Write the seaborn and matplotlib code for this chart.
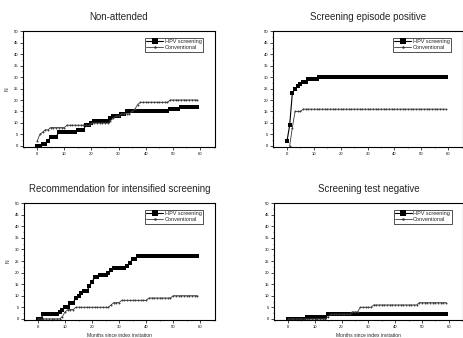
import numpy as np
import pandas as pd
import matplotlib
matplotlib.use("Agg")
import matplotlib.pyplot as plt
import seaborn as sns
from matplotlib.ticker import MultipleLocator

months = list(range(60))

titles = ["Non-attended", "Screening episode positive",
          "Recommendation for intensified screening", "Screening test negative"]
series_names = ["HPV screening", "Conventional"]
xlabel = "Months since index invitation"
ylabel = "N"

def runs(*pairs):
    out = []
    for val, n in pairs:
        out += [val] * n
    return out

# Non-attended
hpv_nonatt = runs((0, 2), (1, 2), (2, 1), (4, 3), (6, 7), (7, 3), (9, 2), (10, 1),
                  (11, 6), (12, 1), (13, 3), (14, 2), (15, 16), (16, 4), (17, 7))
conv_nonatt = runs((2, 1), (5, 1), (6, 1), (7, 2), (8, 6), (9, 9), (10, 7), (11, 1),
                   (12, 1), (13, 2), (14, 4), (15, 1), (16, 1), (18, 1), (19, 11), (20, 11))
# Screening episode positive
hpv_pos = runs((2, 1), (9, 1), (23, 1), (25, 1), (26, 1), (27, 1), (28, 2), (29, 4), (30, 48))
conv_pos = runs((np.nan, 1), (0, 1), (8, 1), (15, 3), (16, 54))
# Recommendation for intensified screening
hpv_rec = runs((0, 2), (2, 6), (3, 1), (4, 1), (5, 2), (7, 2), (9, 1), (10, 1), (11, 1),
               (12, 2), (14, 1), (16, 1), (18, 2), (19, 3), (20, 1), (21, 1), (22, 5),
               (23, 1), (24, 1), (26, 2), (27, 23))
conv_rec = runs((0, 9), (1, 1), (3, 1), (4, 3), (5, 13), (6, 1), (7, 3), (8, 10), (9, 9), (10, 10))
# Screening test negative
hpv_neg = runs((0, 7), (1, 8), (2, 45))
conv_neg = runs((0, 15), (1, 1), (2, 8), (3, 3), (5, 5), (6, 17), (7, 11))

panels = [(hpv_nonatt, conv_nonatt), (hpv_pos, conv_pos),
          (hpv_rec, conv_rec), (hpv_neg, conv_neg)]

sns.set_style("ticks")
plt.rcParams['font.family'] = ['Liberation Sans', 'DejaVu Sans']

fig = plt.figure(figsize=(4.64, 3.38), dpi=100)
W, H = 464, 338
boxes = [(23, 31, 215, 147), (273, 31, 463, 147),
         (24, 203, 215, 320), (274, 203, 463.5, 320)]

for i, ((hpv, conv), title, (l, t, r, b)) in enumerate(zip(panels, titles, boxes)):
    ax = fig.add_axes([l / W, (H - b) / H, (r - l) / W, (b - t) / H])
    df_h = pd.DataFrame({"month": months, "N": hpv})
    df_c = pd.DataFrame({"month": months, "N": conv})
    sns.lineplot(data=df_h, x="month", y="N", ax=ax, color="black", marker="s",
                 markersize=3.4, markeredgewidth=0, linewidth=0.8, estimator=None,
                 label=series_names[0])
    sns.lineplot(data=df_c, x="month", y="N", ax=ax, color="#3a3a3a", marker="o",
                 markersize=1.4, markeredgewidth=0, linewidth=0.6, estimator=None,
                 label=series_names[1])
    ax.set_xlim(-5.2, 65.5)
    ax.set_ylim(-0.5, 50.1)
    ax.xaxis.set_major_locator(MultipleLocator(10))
    ax.xaxis.set_minor_locator(MultipleLocator(5))
    ax.yaxis.set_major_locator(MultipleLocator(5))
    ax.yaxis.set_minor_locator(MultipleLocator(2.5))
    for s in ax.spines.values():
        s.set_visible(True)
        s.set_linewidth(0.8)
        s.set_color("black")
    ax.tick_params(which="major", direction="out", length=2, width=0.5,
                   labelsize=3, pad=1.5, colors="black")
    ax.tick_params(which="minor", direction="out", length=1, width=0.4)
    ax.set_title(title, fontsize=7, pad=8)
    ax.set_xlabel(xlabel if i >= 2 else "", fontsize=3.6, labelpad=3)
    ax.set_ylabel(ylabel if i % 2 == 0 else "", fontsize=3.6, labelpad=3)
    anchor = ((r - 12 - l) / (r - l), 1 - 7 / (b - t))
    leg = ax.legend(loc="upper right", bbox_to_anchor=anchor, fontsize=4,
                    frameon=True, fancybox=False, handlelength=3,
                    handletextpad=0.3, borderpad=0.25, labelspacing=0.15,
                    borderaxespad=0, markerscale=1.3)
    leg.get_frame().set_edgecolor("black")
    leg.get_frame().set_linewidth(0.6)

fig.savefig("out.png", dpi=100)
